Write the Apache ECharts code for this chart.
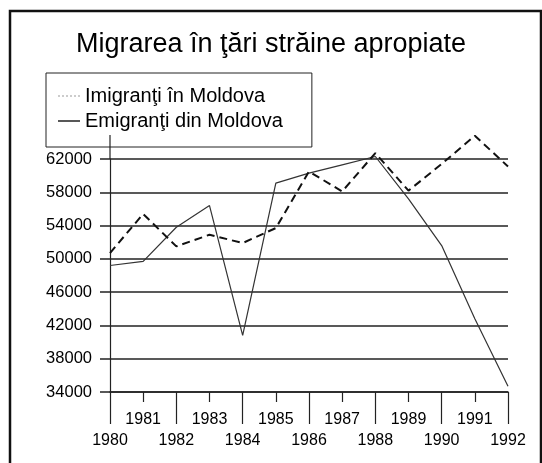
<!DOCTYPE html>
<html>
<head>
<meta charset="utf-8">
<script src="https://cdn.jsdelivr.net/npm/echarts@6/dist/echarts.min.js"></script>
<style>
html,body{margin:0;padding:0;background:#fff;}
#chart{width:542px;height:463px;}
</style>
</head>
<body>
<div id="chart"></div>
<script>
const years = ['1980','1981','1982','1983','1984','1985','1986','1987','1988','1989','1990','1991','1992'];
const imigranti = [49200, 49700, 53800, 56400, 40800, 59100, 60300, 61300, 62300, 57200, 51600, 42800, 34700];
const emigranti = [50700, 55400, 51500, 52900, 51900, 53700, 60500, 58100, 62700, 58200, 61400, 64800, 61100];
const yMin = 34000, yMax = 62000, yStep = 4000;

const FONT = '"Liberation Sans", Arial, sans-serif';
const chart = echarts.init(document.getElementById('chart'), null, {renderer: 'canvas'});
const gridLeft = 110, gridTop = 159;

const dotted = 'path://' + [0, 4, 8, 12, 16, 20].map(x => `M${x} 0H${x + 2}V1H${x}Z`).join(' ');

chart.setOption({
  backgroundColor: '#fff',
  animation: false,
  title: {
    text: 'Migrarea în ţări străine apropiate',
    left: 'center',
    top: 26,
    textStyle: {fontFamily: FONT, fontSize: 27, fontWeight: 'normal', color: '#000'}
  },
  legend: {
    orient: 'vertical',
    left: 46,
    top: 73,
    padding: [12, 29, 15, 12],
    itemWidth: 22,
    itemHeight: 14,
    itemGap: 3,
    borderColor: '#222',
    borderWidth: 1,
    textStyle: {fontFamily: FONT, fontSize: 20, color: '#000', lineHeight: 22},
    data: [
      {name: 'Imigranţi în Moldova', icon: dotted, itemStyle: {color: '#999'}},
      {name: 'Emigranţi din Moldova', icon: 'path://M0 0H22V1.4H0Z', itemStyle: {color: '#111'}}
    ]
  },
  grid: {left: gridLeft, right: 34, top: gridTop, bottom: 71, containLabel: false},
  xAxis: [
    {
      type: 'category', data: years, boundaryGap: false,
      axisLine: {show: true, lineStyle: {color: '#222', width: 1.5}},
      axisTick: {show: true, length: 32, interval: (i) => i % 2 === 0, lineStyle: {color: '#222', width: 1.2}},
      axisLabel: {interval: (i) => i % 2 === 0, margin: 41, fontFamily: FONT, fontSize: 16, color: '#000'},
      splitLine: {show: false}
    },
    {
      type: 'category', data: years, boundaryGap: false, position: 'bottom',
      axisLine: {show: false},
      axisTick: {show: true, length: 10, interval: (i) => i % 2 === 1, lineStyle: {color: '#222', width: 1.2}},
      axisLabel: {interval: (i) => i % 2 === 1, margin: 20, fontFamily: FONT, fontSize: 16, color: '#000'},
      splitLine: {show: false}
    }
  ],
  yAxis: {
    type: 'value', min: yMin, max: yMax, interval: yStep,
    axisLine: {show: true, lineStyle: {color: '#222', width: 1.2}},
    axisTick: {show: true, length: 10, lineStyle: {color: '#222', width: 1.5}},
    axisLabel: {margin: 18, fontFamily: FONT, fontSize: 16.5, color: '#000', formatter: (v) => String(v)},
    splitLine: {show: true, lineStyle: {color: '#222', width: 1.5}}
  },
  series: [
    {
      name: 'Imigranţi în Moldova', type: 'line', data: imigranti, xAxisIndex: 0,
      symbol: 'none', clip: false,
      itemStyle: {color: '#999'},
      lineStyle: {color: '#333', width: 1.2, type: 'solid'}
    },
    {
      name: 'Emigranţi din Moldova', type: 'line', data: emigranti, xAxisIndex: 0,
      symbol: 'none', clip: false,
      itemStyle: {color: '#111'},
      lineStyle: {color: '#111', width: 2, type: [8, 5]}
    }
  ],
  graphic: [
    {type: 'rect', shape: {x: 10, y: 11, width: 531, height: 470}, style: {fill: 'none', stroke: '#111', lineWidth: 2.5}, z: 100},
    {type: 'line', shape: {x1: gridLeft, y1: gridTop - 24, x2: gridLeft, y2: gridTop}, style: {stroke: '#222', lineWidth: 1.2}, z: 100}
  ]
});
</script>
</body>
</html>
